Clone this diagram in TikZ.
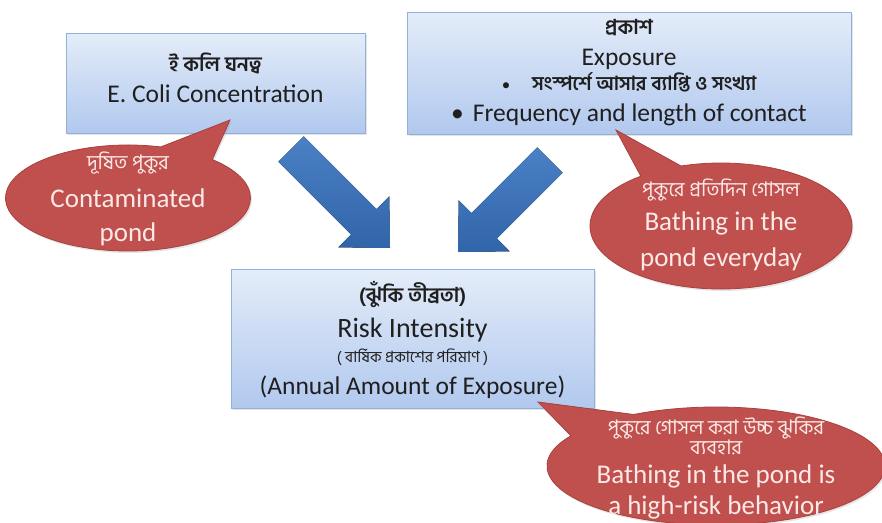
\documentclass[tikz,border=0pt]{standalone}
\usepackage{fontspec}
\setmainfont{Carlito}
\newfontfamily\bangla[Script=Bengali]{Hind Siliguri}
\usetikzlibrary{shapes.callouts,shadows,calc}

\definecolor{boxtop}{HTML}{E4EDF9}
\definecolor{boxbot}{HTML}{B1C8EE}
\definecolor{boxline}{HTML}{93B1D8}
\definecolor{callred}{HTML}{C0504D}
\definecolor{calledge}{HTML}{A8403D}
\definecolor{calltext}{HTML}{FBE9E7}
\definecolor{arrowtop}{HTML}{4A80C4}
\definecolor{arrowbot}{HTML}{3165A9}

\newcommand\bn[1]{{\bangla\fontsize{20}{22}\selectfont #1}}
\newcommand\bnb[1]{{\bangla\bfseries\fontsize{20.5}{22}\selectfont #1}}

\tikzset{
  bluebox/.style={draw=boxline, line width=0.8pt, top color=boxtop, bottom color=boxbot,
    inner sep=0pt, align=center, text=black!88, font=\fontsize{25.5}{29.5}\selectfont,
    text depth=0pt, drop shadow={opacity=0.22, shadow xshift=1.5pt, shadow yshift=-2pt}},
  redcall/.style={ellipse callout, draw=calledge, line width=0.8pt, fill=callred,
    text=calltext, inner sep=-20pt, align=center, font=\fontsize{27}{33}\selectfont,
    text depth=0pt, drop shadow={opacity=0.2, shadow xshift=1.5pt, shadow yshift=-2pt}},
  bigarrow/.style={top color=arrowtop, bottom color=arrowbot, draw=none},
}

\begin{document}
\begin{tikzpicture}[x=1pt,y=-1pt]
  \useasboundingbox (0,0) rectangle (882,522);

  % boxes
  \node[bluebox, text height=38pt, minimum width=299, minimum height=100] (ecoli) at (215.5,83)
    {\bnb{ই কলি ঘনত্ব}\\[1.5pt]E. Coli Concentration};
  \node[bluebox, text height=96pt, minimum width=444, minimum height=122] (expo) at (629,73)
    {\bnb{প্রকাশ}\\[1pt]
     Exposure\\[-4.5pt]
     {\fontsize{17}{20}\selectfont\textbullet}\hspace{22pt}{\bangla\bfseries\fontsize{19.5}{22}\selectfont সংস্পর্শে আসার ব্যাপ্তি ও সংখ্যা}\hspace{30pt}\\[1.5pt]
     \textbullet\hspace{9pt}Frequency and length of contact};
  \node[bluebox, text height=112pt, minimum width=363, minimum height=139] (risk) at (412.5,338.5)
    {\bnb{(ঝুঁকি তীব্রতা)}\\[5pt]
     {\fontsize{28}{30}\selectfont Risk Intensity}\\[-4.5pt]
     {\bangla\fontsize{15.5}{18}\selectfont ( বার্ষিক  প্রকাশের  পরিমাণ )}\\[3pt]
     (Annual Amount of Exposure)};

  % block arrows
  \fill[bigarrow] (303.7,136.3) -- (376.5,209.1) -- (389.3,196.3) -- (390,248)
    -- (338.3,247.3) -- (351.1,234.5) -- (278.3,161.7) -- cycle;
  \fill[bigarrow] (537.2,147.4) -- (471.5,213.1) -- (458.7,200.3) -- (458,252)
    -- (509.7,251.3) -- (496.9,238.5) -- (562.6,172.8) -- cycle;

  % callouts
  \node[redcall, text height=86pt, minimum width=245, minimum height=106, callout pointer arc=28,
    callout absolute pointer={(230,120)}] (pond) at (128,198)
    {\bn{দূষিত পুকুর}\\[5pt]Contaminated\\[1pt]pond};
  \node[redcall, text height=80pt, minimum width=262, minimum height=126, callout pointer arc=20,
    callout absolute pointer={(616,130)}] (daily) at (721,226)
    {\bn{পুকুরে প্রতিদিন গোসল}\\[1pt]Bathing in the\\[3pt]pond everyday};
  \node[redcall, text height=97pt, minimum width=338, minimum height=118, callout pointer arc=30,
    callout absolute pointer={(538,402)}] (habit) at (716,466)
    {\bn{পুকুরে গোসল করা উচ্চ ঝুকির}\\[-13pt]\bn{ব্যবহার}\\[-4pt]
     Bathing in the pond is\\[-2pt]a high-risk behavior};
\end{tikzpicture}
\end{document}
